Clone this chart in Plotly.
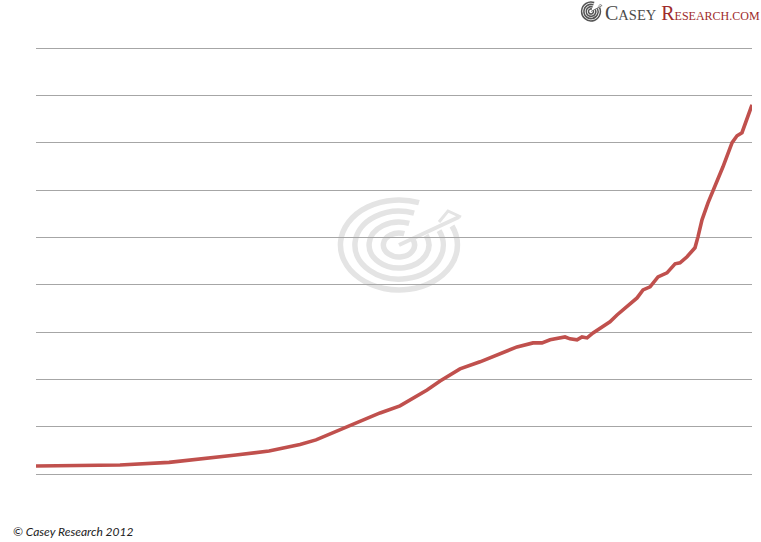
import base64
import math
import plotly.graph_objects as go

# ---- data ----
years = [1957.00, 1960.38, 1963.45, 1967.22, 1969.83, 1972.36, 1974.90, 1976.44, 1977.28, 1978.51,
         1979.43, 1980.35, 1981.12, 1981.89, 1983.43, 1984.96, 1985.96, 1987.04, 1988.04, 1989.57,
         1991.11, 1992.11, 1993.03, 1993.95, 1995.18, 1995.87, 1996.49, 1997.25, 1997.64, 1998.02,
         1998.56, 1998.94, 1999.33, 1999.79, 2000.56, 2001.09, 2001.63, 2002.40, 2003.17, 2003.63,
         2004.17, 2004.78, 2005.47, 2006.09, 2006.47, 2007.01, 2007.39, 2007.62, 2007.85, 2008.16,
         2008.62, 2009.16, 2009.77, 2010.47, 2010.85, 2011.23, 2011.61, 2012.00]
values = [0.34, 0.36, 0.38, 0.49, 0.63, 0.80, 0.97, 1.14, 1.25, 1.44,
          1.65, 1.90, 2.07, 2.24, 2.58, 2.88, 3.21, 3.55, 3.93, 4.44,
          4.74, 4.95, 5.16, 5.37, 5.54, 5.54, 5.67, 5.75, 5.79, 5.71,
          5.67, 5.79, 5.75, 5.96, 6.22, 6.43, 6.72, 7.06, 7.44, 7.78,
          7.91, 8.33, 8.50, 8.88, 8.92, 9.18, 9.43, 9.56, 10.02, 10.74,
          11.46, 12.14, 12.98, 14.00, 14.29, 14.42, 14.97, 15.60]
y_ticks = [0, 2, 4, 6, 8, 10, 12, 14, 16, 18]

W, H = 761, 542
L, R, T, B = 36, 9, 46, 66          # plot area (grid 0..18 sits at 474..48 px)
PW, PH = W - L - R, H - T - B


def px(x):
    return (x - L) / PW


def py(y):
    return (H - B - y) / PH


def rings_svg(color, w=132, h=100, sw=5.5, ratio=1.3):
    cx, cy = w / 2, h / 2
    parts = []
    for r in (45, 34, 23, 12):
        rx, ry = r * ratio, r
        a1, a2 = math.radians(-25), math.radians(290)
        x1, y1 = cx + rx * math.cos(a1), cy + ry * math.sin(a1)
        x2, y2 = cx + rx * math.cos(a2), cy + ry * math.sin(a2)
        parts.append(f'<path d="M{x1:.1f},{y1:.1f} A{rx:.1f},{ry},0 1 1 {x2:.1f},{y2:.1f}" '
                     f'fill="none" stroke="{color}" stroke-width="{sw}"/>')
    parts.append(f'<path d="M{cx:.1f},{cy:.1f} L{w-6},{h*0.22:.1f}" stroke="{color}" stroke-width="4" fill="none"/>')
    parts.append(f'<path d="M{w-26},{h*0.27:.1f} L{w-17},{h*0.16:.1f} L{w-4},{h*0.22:.1f}" '
                 f'stroke="{color}" stroke-width="3" fill="none"/>')
    svg = (f'<svg xmlns="http://www.w3.org/2000/svg" width="{w}" height="{h}" viewBox="0 0 {w} {h}">'
           + "".join(parts) + '</svg>')
    return "data:image/svg+xml;base64," + base64.b64encode(svg.encode()).decode()


fig = go.Figure()
fig.add_trace(go.Scatter(x=years, y=values, mode="lines",
                         line=dict(color="#c0504d", width=3.6),
                         cliponaxis=False, hoverinfo="skip"))

pad = 2 * 18 / (PH - 4)
fig.update_layout(
    width=W, height=H,
    margin=dict(l=L, r=R, t=T, b=B, autoexpand=False),
    paper_bgcolor="white", plot_bgcolor="white",
    showlegend=False,
    xaxis=dict(range=[1957, 2012], showgrid=False, zeroline=False, showticklabels=False,
               showline=False, ticks="", fixedrange=True),
    yaxis=dict(range=[-pad, 18 + pad], tickvals=y_ticks, showgrid=True, gridcolor="#a6a6a6",
               gridwidth=1.3, zeroline=False, showticklabels=False, showline=False, ticks="",
               fixedrange=True),
    images=[
        dict(source=rings_svg("#e4e4e4"), xref="paper", yref="paper",
             x=px(333), y=py(195), sizex=132 / PW, sizey=100 / PH, sizing="stretch",
             xanchor="left", yanchor="top", layer="below"),
        dict(source=rings_svg("#555555", sw=8, ratio=1.15), xref="paper", yref="paper",
             x=px(579), y=py(1), sizex=24 / PW, sizey=21 / PH,
             sizing="stretch", xanchor="left", yanchor="top", layer="above"),
    ],
    annotations=[
        dict(text=("<span style='color:#4a4a4a'>C<span style='font-size:14.5px'>ASEY</span></span> "
                   "<span style='color:#9e2b2b'>R<span style='font-size:12px'>ESEARCH.COM</span></span>"),
             xref="paper", yref="paper", x=px(603), y=py(0),
             xanchor="left", yanchor="top", showarrow=False,
             font=dict(family="Liberation Serif", size=20, color="#9e2b2b")),
        dict(text="© Casey Research 2012", xref="paper", yref="paper",
             x=px(11), y=py(531), xanchor="left", yanchor="middle",
             showarrow=False,
             font=dict(family="Lato", size=12, color="#222222", style="italic")),
    ],
)

fig.write_html("out.html", config={"displayModeBar": False},
               post_script="document.body.style.margin='0';document.body.style.padding='0';"
                           "document.body.style.overflow='hidden';")
